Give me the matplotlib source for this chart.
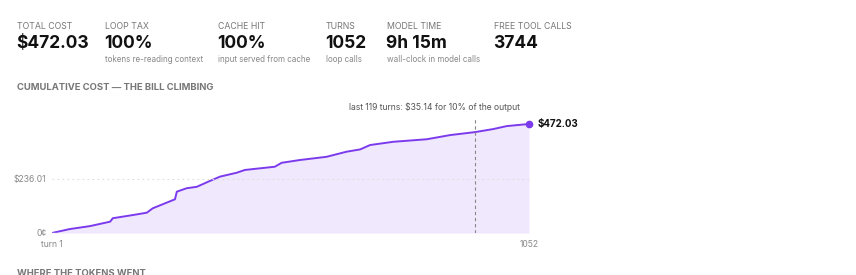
import matplotlib.pyplot as plt

# data
stat_labels = ["TOTAL COST", "LOOP TAX", "CACHE HIT", "TURNS", "MODEL TIME", "FREE TOOL CALLS"]
stat_values = ["$472.03", "100%", "100%", "1052", "9h 15m", "3744"]
stat_notes = ["", "tokens re-reading context", "input served from cache", "loop calls",
              "wall-clock in model calls", ""]

turns = [1, 40, 85, 129, 135, 180, 210, 223, 272, 276, 298, 320, 345, 371, 408, 426,
         492, 507, 547, 606, 650, 680, 702, 753, 827, 878, 933, 973, 1003, 1052]
cost = [0, 17, 30, 49, 64, 78, 88, 107, 146, 179, 194, 200, 222, 244, 261, 273,
        287, 304, 316, 330, 352, 362, 381, 395, 406, 424, 436.89, 450, 463, 472.03]
total = 472.03
mark_turn = 933  # last 119 turns

W, H = 856, 275
plt.rcParams['font.family'] = ['Inter', 'DejaVu Sans']
fig = plt.figure(figsize=(W / 100, H / 100), dpi=100)


def fx(x):
    return x / W


def fy(y):
    return 1 - y / H


# stat row
xs = [17, 105, 218, 326, 387, 494]
for x, lab, val, note in zip(xs, stat_labels, stat_values, stat_notes):
    fig.text(fx(x), fy(26.5), lab, fontsize=6.3, color='#777777', va='center', ha='left')
    fig.text(fx(x - 1), fy(43.5), val, fontsize=12.5, fontweight='bold', color='#111111',
             va='center', ha='left')
    if note:
        fig.text(fx(x), fy(59.5), note, fontsize=5.8, color='#888888', va='center', ha='left')

fig.text(fx(17), fy(87), "CUMULATIVE COST — THE BILL CLIMBING", fontsize=6.8,
         fontweight='bold', color='#777777', va='center', ha='left')
fig.text(fx(17), fy(273), "WHERE THE TOKENS WENT", fontsize=6.8,
         fontweight='bold', color='#777777', va='center', ha='left')

# chart
left, right, top, bottom = 52, 529, 118, 233
ax = fig.add_axes([fx(left), fy(bottom), (right - left) / W, (bottom - top) / H])
ymax = total * (bottom - top) / (bottom - 124)
ax.set_xlim(1, 1052)
ax.set_ylim(0, ymax)

ax.fill_between(turns, cost, 0, color='#f0e9fd', lw=0)
ax.plot(turns, cost, color='#7c3aed', lw=1.4, solid_capstyle='round')
ax.plot([turns[-1]], [cost[-1]], 'o', color='#7c3aed', ms=4.5, clip_on=False)
ax.axhline(total / 2, color='#dddddd', lw=0.8, ls=(0, (1.5, 3)))
ax.axhline(0, color='#e6ddf8', lw=1)
ax.axvline(mark_turn, color='#888888', lw=0.8, ls=(0, (3, 2.5)))

ax.text(1070, total, "$472.03", fontsize=7, fontweight='bold', color='#111111',
        va='center', ha='left')
ax.text(843, ymax * 1.09, "last 119 turns: $35.14 for 10% of the output",
        fontsize=6.2, color='#555555', va='center', ha='center', clip_on=False)

ax.set_yticks([0, total / 2])
ax.set_yticklabels(["0¢", "$236.01"])
ax.set_xticks([1, 1052])
ax.set_xticklabels(["turn 1", "1052"])
ax.tick_params(length=0, labelsize=6.2, labelcolor='#888888', pad=4)
ax.tick_params(axis='x', pad=5)
for s in ax.spines.values():
    s.set_visible(False)
ax.patch.set_alpha(0)

fig.savefig("out.png", dpi=100)
